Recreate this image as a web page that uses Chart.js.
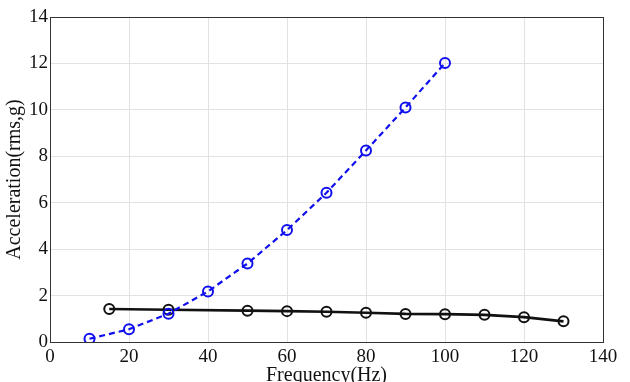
<!DOCTYPE html>
<html><head><meta charset="utf-8">
<script src="https://cdn.jsdelivr.net/npm/chart.js@4"></script>
<style>html,body{margin:0;padding:0;background:#fff}#wrap{width:630px;height:382px}</style>
</head><body><div id="wrap"><canvas id="c" width="630" height="382"></canvas></div>
<script>
const blueFreq = [10, 20, 30, 40, 50, 60, 70, 80, 90, 100];
const blueAccel = [0.14, 0.55, 1.22, 2.18, 3.38, 4.82, 6.43, 8.25, 10.1, 12.02];
const blackFreq = [15, 30, 50, 60, 70, 80, 90, 100, 110, 120, 130];
const blackAccel = [1.42, 1.39, 1.35, 1.33, 1.30, 1.26, 1.21, 1.20, 1.17, 1.07, 0.89];
const xTicks = [0, 20, 40, 60, 80, 100, 120, 140];
const yTicks = [0, 2, 4, 6, 8, 10, 12, 14];
const xTitle = 'Frequency(Hz)';
const yTitle = 'Acceleration(rms,g)';

const pts = (xs, ys) => xs.map((x, i) => ({x, y: ys[i]}));
const fam = '"Liberation Serif", "Times New Roman", serif';
const font = {family: fam, size: 19};
const titleFont = {family: fam, size: 20};
const gridColor = '#e2e2e2';

new Chart(document.getElementById('c'), {
  type: 'line',
  data: {
    datasets: [
      {data: pts(blueFreq, blueAccel), borderColor: '#1010ee', borderWidth: 2.2, borderDash: [6, 4],
       pointRadius: 5, pointBorderWidth: 2, pointBackgroundColor: 'rgba(0,0,0,0)', pointBorderColor: '#1010ee', tension: 0},
      {data: pts(blackFreq, blackAccel), borderColor: '#111', borderWidth: 2.6,
       pointRadius: 5, pointBorderWidth: 2, pointBackgroundColor: 'rgba(0,0,0,0)', pointBorderColor: '#111', tension: 0}
    ]
  },
  options: {
    responsive: false, animation: false, devicePixelRatio: 1,
    layout: {padding: 0},
    plugins: {legend: {display: false}, tooltip: {enabled: false}},
    scales: {
      x: {type: 'linear', min: 0, max: 140,
          afterBuildTicks: s => { s.ticks = xTicks.map(v => ({value: v})); },
          afterFit: s => { s.height = 40; },
          grid: {color: gridColor, drawTicks: false},
          border: {color: '#333', width: 1},
          ticks: {font, color: '#111', padding: 4, maxRotation: 0},
          title: {display: true, text: xTitle, font: titleFont, color: '#111', padding: {top: -6, bottom: -6}}},
      x2: {type: 'linear', position: 'top', min: 0, max: 140,
          afterBuildTicks: s => { s.ticks = xTicks.map(v => ({value: v})); },
          afterFit: s => { s.height = 17; },
          grid: {display: false}, border: {color: '#333', width: 1}, ticks: {display: false}},
      y: {type: 'linear', min: 0, max: 14,
          afterBuildTicks: s => { s.ticks = yTicks.map(v => ({value: v})); },
          afterFit: s => { s.width = 50; },
          grid: {color: gridColor, drawTicks: false},
          border: {color: '#333', width: 1},
          ticks: {font, color: '#111', padding: 2},
          title: {display: true, text: yTitle, font: titleFont, color: '#111', padding: {top: 3, bottom: 0}}},
      y2: {type: 'linear', position: 'right', min: 0, max: 14,
          afterBuildTicks: s => { s.ticks = yTicks.map(v => ({value: v})); },
          afterFit: s => { s.width = 27; },
          grid: {display: false}, border: {color: '#333', width: 1}, ticks: {display: false}}
    }
  }
});
</script></body></html>
